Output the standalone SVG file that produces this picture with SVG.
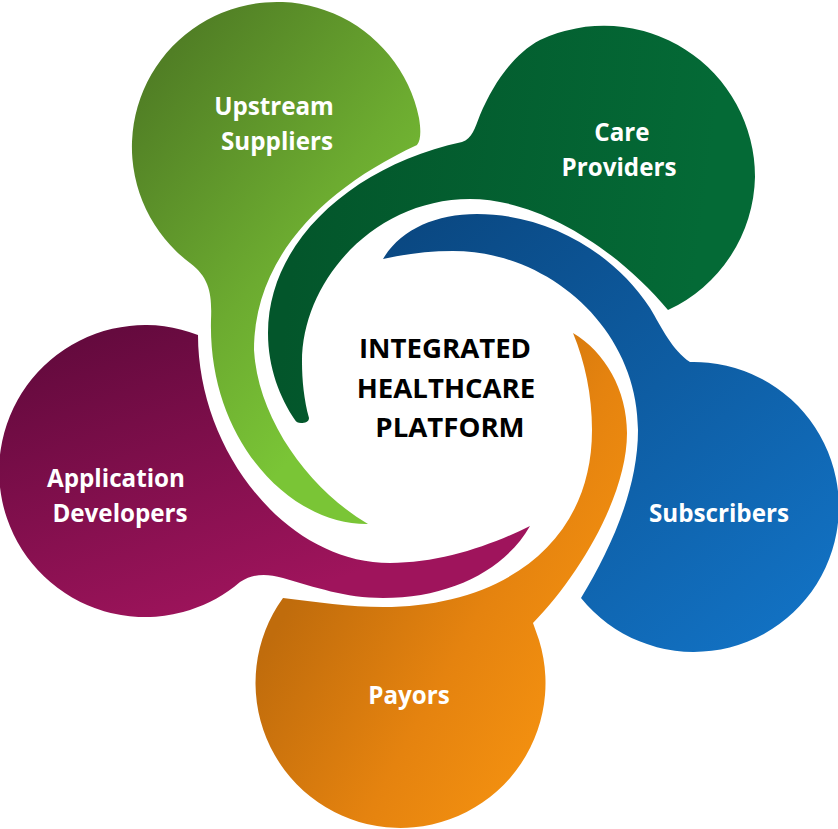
<svg xmlns="http://www.w3.org/2000/svg" width="838" height="829" viewBox="0 0 838 829">
<defs>
<linearGradient id="gGreen" gradientUnits="userSpaceOnUse" x1="150" y1="80" x2="420" y2="300"><stop offset="0" stop-color="#517f25"/><stop offset="0.6" stop-color="#6cab30"/><stop offset="1" stop-color="#7ac536"/></linearGradient>
<linearGradient id="gDark" gradientUnits="userSpaceOnUse" x1="300" y1="200" x2="700" y2="250"><stop offset="0" stop-color="#03562b"/><stop offset="1" stop-color="#046a36"/></linearGradient>
<linearGradient id="gBlue" gradientUnits="userSpaceOnUse" x1="430" y1="210" x2="790" y2="640"><stop offset="0" stop-color="#0a4882"/><stop offset="1" stop-color="#1272c4"/></linearGradient>
<linearGradient id="gOrange" gradientUnits="userSpaceOnUse" x1="270" y1="640" x2="540" y2="790"><stop offset="0" stop-color="#c06c0c"/><stop offset="0.55" stop-color="#e5830f"/><stop offset="1" stop-color="#f59210"/></linearGradient>
<linearGradient id="gPurple" gradientUnits="userSpaceOnUse" x1="120" y1="330" x2="220" y2="620"><stop offset="0" stop-color="#650a3e"/><stop offset="1" stop-color="#9f145c"/></linearGradient>
<style>
text{font-family:"Open Sans","Noto Sans",sans-serif;font-weight:700;text-anchor:middle}
.w{fill:#fff;font-size:24.2px}
.k{fill:#000;font-size:27.6px}
</style>
</defs>
<g id="connectors"/>
<g id="upstream"><path fill="url(#gGreen)" d="M368 524C290 525 208 440 211 320C212 295 210 278 190 263A145 145 0 1 1 419 118C421 130 421 140 417 145C320 190 254 260 254 350C258 420 310 490 368 524Z"/><text class="w" x="274" y="115">Upstream</text><text class="w" x="277" y="150">Suppliers</text></g>
<g id="care"><path fill="url(#gDark)" d="M462 142C472 139 475 128 480 115C493 85 512 55 540 40A151 151 0 0 1 755 177A150 150 0 0 1 668 310C618 250 540 199 470 199C375 199 302 280 302 362C302 380 304 400 309 418C309 422 305 423 301 423C298 423 296 422 295 420C280 398 268 368 268 333C268 240 355 165 462 142Z"/><text class="w" x="622" y="141">Care</text><text class="w" x="619" y="176">Providers</text></g>
<g id="subscribers"><path fill="url(#gBlue)" d="M383 259C400 230 435 214 477 214C545 214 612 250 650 308C662 328 672 350 690 362A145 145 0 1 1 581 598C610 550 638 490 638 430C638 330 550 251 453 251C428 251 405 254 383 259Z"/><text class="w" x="719" y="522">Subscribers</text></g>
<g id="payors"><path fill="url(#gOrange)" d="M573 333C605 352 627 390 627 433C627 495 580 575 533 623L539 640A145 145 0 1 1 283 598C315 602 350 607 383 607C500 607 592 545 592 430C592 395 585 362 573 333Z"/><text class="w" x="409" y="704">Payors</text></g>
<g id="developers"><path fill="url(#gPurple)" d="M198 335C198 450 285 563 390 563C440 563 490 546 530 526C505 570 450 598 383 598C345 598 315 587 283 578C265 573 253 574 240 582C225 595 208 604 190 610A146 146 0 1 1 198 335Z"/><text class="w" x="116" y="487">Application</text><text class="w" x="120" y="522">Developers</text></g>
<g id="center"><text class="k" x="445" y="358">INTEGRATED</text><text class="k" x="446" y="398">HEALTHCARE</text><text class="k" x="450" y="437">PLATFORM</text></g>
</svg>
